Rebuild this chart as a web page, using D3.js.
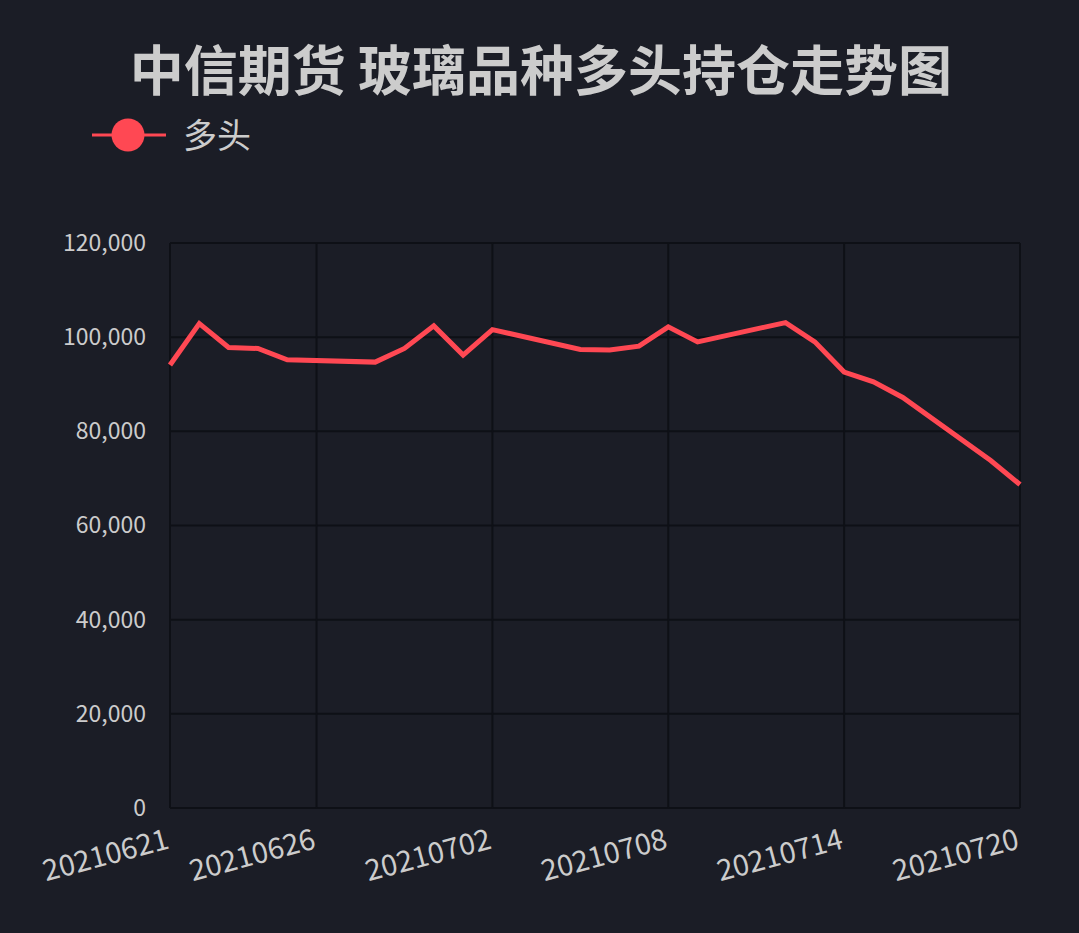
<!DOCTYPE html>
<html>
<head>
<meta charset="utf-8">
<script src="https://cdn.jsdelivr.net/npm/d3@7"></script>
<style>
  html, body { margin: 0; padding: 0; background: #1b1d26; }
  svg { display: block; }
  text { font-family: "Noto Sans CJK SC", "Noto Sans", sans-serif; }
</style>
</head>
<body>
<svg id="chart" width="1079" height="933"></svg>
<script>
// trading days and long positions
var dates = ["20210621", "20210622", "20210623", "20210624", "20210625",
             "20210628", "20210629", "20210630", "20210701", "20210702",
             "20210705", "20210706", "20210707", "20210708", "20210709",
             "20210712", "20210713", "20210714", "20210715", "20210716",
             "20210719", "20210720"];
var longPos = [94100, 102900, 97800, 97600, 95200,
               94700, 97600, 102400, 96200, 101600,
               97400, 97300, 98100, 102200, 99000,
               103100, 99000, 92600, 90500, 87200,
               73800, 68700];
var xTickLabels = ["20210621", "20210626", "20210702", "20210708", "20210714", "20210720"];
var yTicks = [0, 20000, 40000, 60000, 80000, 100000, 120000];

var parse = d3.timeParse("%Y%m%d");
var fmt = d3.timeFormat("%Y%m%d");

var svg = d3.select("#chart");
var W = 1079, H = 933;
var margin = {left: 170, right: 59, top: 243, bottom: 125};

svg.append("rect").attr("width", W).attr("height", H).attr("fill", "#1b1d26");

var x = d3.scaleTime()
    .domain([parse(dates[0]), parse(dates[dates.length - 1])])
    .range([margin.left, W - margin.right]);
var y = d3.scaleLinear()
    .domain([0, 120000])
    .range([H - margin.bottom, margin.top]);

var gridColor = "#0e1016";

// horizontal grid
svg.append("g").selectAll("line")
    .data(yTicks)
    .join("line")
    .attr("x1", margin.left).attr("x2", W - margin.right)
    .attr("y1", d => y(d)).attr("y2", d => y(d))
    .attr("stroke", gridColor).attr("stroke-width", 2);

// vertical grid
svg.append("g").selectAll("line")
    .data(xTickLabels)
    .join("line")
    .attr("x1", d => x(parse(d))).attr("x2", d => x(parse(d)))
    .attr("y1", margin.top).attr("y2", H - margin.bottom)
    .attr("stroke", gridColor).attr("stroke-width", 2);

// y axis labels
var yAxis = d3.axisLeft(y).tickValues(yTicks).tickSize(0).tickPadding(24)
    .tickFormat(d3.format(","));
svg.append("g")
    .attr("transform", "translate(" + margin.left + ",0)")
    .call(yAxis)
    .call(g => g.select(".domain").remove())
    .selectAll("text")
    .attr("fill", "#cccccc")
    .attr("font-size", 23)
    .attr("font-family", "'Noto Sans CJK SC', 'Noto Sans', sans-serif");

// x axis labels
var xAxis = d3.axisBottom(x).tickValues(xTickLabels.map(parse)).tickSize(0)
    .tickFormat(fmt);
svg.append("g")
    .attr("transform", "translate(0," + (H - margin.bottom) + ")")
    .call(xAxis)
    .call(g => g.select(".domain").remove())
    .selectAll("text")
    .attr("fill", "#cccccc")
    .attr("font-size", 29)
    .attr("font-family", "'Noto Sans CJK SC', 'Noto Sans', sans-serif")
    .attr("text-anchor", "end")
    .attr("dy", null)
    .attr("y", 0)
    .attr("transform", "translate(0,40) rotate(-15)");

// the line
var line = d3.line()
    .x((d, i) => x(parse(dates[i])))
    .y(d => y(d));
svg.append("path")
    .datum(longPos)
    .attr("d", line)
    .attr("fill", "none")
    .attr("stroke", "#ff4853")
    .attr("stroke-width", 5)
    .attr("stroke-linejoin", "miter");

// title
svg.append("text")
    .attr("x", 541).attr("y", 91)
    .attr("text-anchor", "middle")
    .attr("font-size", 54)
    .attr("font-weight", "bold")
    .attr("fill", "#cccccc")
    .text("中信期货 玻璃品种多头持仓走势图");

// legend
var lg = svg.append("g");
lg.append("line")
    .attr("x1", 92).attr("x2", 166).attr("y1", 135).attr("y2", 135)
    .attr("stroke", "#ff4853").attr("stroke-width", 3);
lg.append("circle")
    .attr("cx", 128).attr("cy", 135).attr("r", 16.5)
    .attr("fill", "#ff4853");
lg.append("text")
    .attr("x", 183).attr("y", 148)
    .attr("font-size", 34)
    .attr("fill", "#cccccc")
    .text("多头");
</script>
</body>
</html>
